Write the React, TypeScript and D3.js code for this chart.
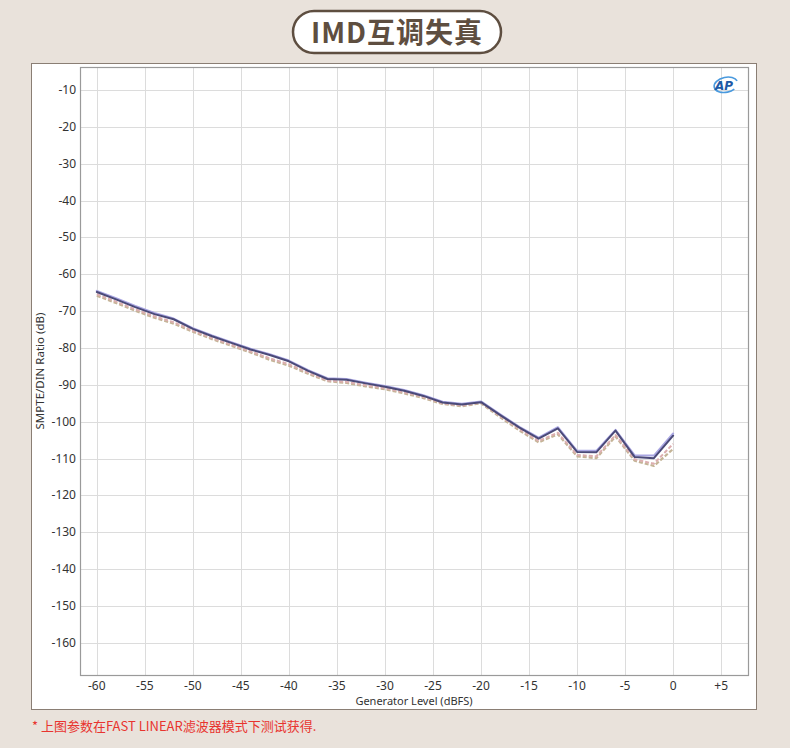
import React from 'react';
import * as d3 from 'd3';

// generator level (dBFS)
const levels = [-60, -58, -56, -54, -52, -50, -48, -46, -44, -42, -40, -38, -36, -34, -32, -30, -28, -26, -24, -22, -20, -18, -16, -14, -12, -10, -8, -6, -4, -2, 0];

// SMPTE/DIN ratio (dB) per channel
const navy = [-64.8, -66.8, -68.9, -70.8, -72.2, -74.8, -76.8, -78.6, -80.4, -81.9, -83.6, -86.2, -88.4, -88.6, -89.6, -90.5, -91.6, -93.0, -94.8, -95.3, -94.7, -98.2, -101.6, -104.6, -101.8, -108.2, -108.3, -102.4, -109.6, -109.9, -103.8];
const lavender = [-64.5, -66.5, -68.6, -70.5, -72.0, -74.6, -76.6, -78.4, -80.2, -81.7, -83.4, -86.0, -88.2, -88.4, -89.4, -90.3, -91.4, -92.8, -94.6, -95.1, -94.5, -98.0, -101.4, -104.3, -101.5, -107.9, -107.9, -102.2, -109.1, -109.2, -103.2];
const tan = [-65.8, -67.8, -69.9, -71.8, -73.4, -75.6, -77.6, -79.4, -81.2, -83.2, -84.8, -87.0, -89.0, -89.5, -90.4, -91.2, -92.3, -93.6, -95.2, -95.8, -95.0, -98.8, -102.4, -105.6, -103.4, -109.4, -109.9, -104.0, -110.6, -112.0, -107.4];
const pink = [-65.4, -67.4, -69.5, -71.4, -73.0, -75.3, -77.3, -79.1, -80.9, -82.8, -84.4, -86.7, -88.8, -89.2, -90.1, -90.9, -92.0, -93.3, -95.0, -95.6, -94.8, -98.5, -102.0, -105.2, -103.0, -109.0, -109.4, -103.6, -110.2, -111.4, -106.0];

const xTicks = [-60, -55, -50, -45, -40, -35, -30, -25, -20, -15, -10, -5, 0, 5];
const yTicks = [-10, -20, -30, -40, -50, -60, -70, -80, -90, -100, -110, -120, -130, -140, -150, -160];

const W = 790;
const H = 748;
const plot = { left: 80, right: 749, top: 67, bottom: 676 };

export default function App() {
  const x = d3.scaleLinear().domain([-61.75, 7.9]).range([plot.left, plot.right]);
  const y = d3.scaleLinear().domain([-3.75, -169]).range([plot.top, plot.bottom]);

  const line = d3.line<number>()
    .x((_, i) => x(levels[i]))
    .y(d => y(d));

  const series = [
    { data: tan, color: '#c4b496', width: 2.2, dash: '4,2' },
    { data: pink, color: '#dcaeb0', width: 2, dash: '4,2' },
    { data: lavender, color: '#a9a6e2', width: 2, dash: undefined },
    { data: navy, color: '#4b4a78', width: 2, dash: undefined },
  ];

  const tickFont = '"Noto Sans", "Open Sans", sans-serif';

  return (
    <div>
      <style>{'body{margin:0}'}</style>
      <svg width={W} height={H} style={{ display: 'block' }}>
        <rect x={0} y={0} width={W} height={H} fill="#e9e2db" />

        {/* title pill */}
        <rect x={293} y={11} width={208} height={42} rx={21} fill="#ffffff" stroke="#5e4e40" strokeWidth={2.5} />
        <text x={397} y={43} textAnchor="middle" fontFamily='"Noto Sans CJK SC", sans-serif' fontWeight={700} fontSize={28} letterSpacing={1} fill="#5e4e40">
          IMD互调失真
        </text>

        {/* chart panel */}
        <rect x={31.5} y={63.5} width={725} height={646} fill="#ffffff" stroke="#8a7e74" strokeWidth={1} />

        {/* grid */}
        <g stroke="#dcdcdc" strokeWidth={1}>
          {xTicks.map(t => (
            <line key={'gx' + t} x1={Math.round(x(t)) + 0.5} x2={Math.round(x(t)) + 0.5} y1={plot.top} y2={plot.bottom} />
          ))}
          {yTicks.map(t => (
            <line key={'gy' + t} x1={plot.left} x2={plot.right} y1={Math.round(y(t)) + 0.5} y2={Math.round(y(t)) + 0.5} />
          ))}
        </g>

        {/* series */}
        <g fill="none" strokeLinejoin="round">
          {series.map((s, i) => (
            <path key={i} d={line(s.data) || ''} stroke={s.color} strokeWidth={s.width} strokeDasharray={s.dash} strokeLinecap={s.dash ? 'butt' : 'round'} />
          ))}
        </g>

        {/* plot frame */}
        <rect x={plot.left + 0.5} y={plot.top + 0.5} width={plot.right - plot.left - 1} height={plot.bottom - plot.top - 1} fill="none" stroke="#9a9a9a" strokeWidth={1.2} />

        {/* tick labels */}
        <g fontFamily={tickFont} fontSize={12} fill="#333333">
          {yTicks.map(t => (
            <text key={'ty' + t} x={76} y={y(t) + 4} textAnchor="end">{t}</text>
          ))}
          {xTicks.map(t => (
            <text key={'tx' + t} x={x(t)} y={690} textAnchor="middle">{t > 0 ? '+' + t : t}</text>
          ))}
        </g>

        {/* axis titles */}
        <text x={414} y={705} textAnchor="middle" fontFamily={tickFont} fontSize={11} fill="#333333">
          Generator Level (dBFS)
        </text>
        <text transform="translate(44,371) rotate(-90)" textAnchor="middle" fontFamily={tickFont} fontSize={11.5} fill="#333333">
          SMPTE/DIN Ratio (dB)
        </text>

        {/* AP logo */}
        <g transform="translate(725,85)">
          <ellipse cx={1} cy={0} rx={12} ry={7.5} fill="none" stroke="#4a9ade" strokeWidth={1.6} transform="rotate(-12)" strokeDasharray="52,12" strokeDashoffset={-8} />
          <text x={-1} y={4.5} textAnchor="middle" fontFamily="'DejaVu Sans', sans-serif" fontStyle="italic" fontWeight={700} fontSize={12} fill="#1f5aa6">
            AP
          </text>
        </g>

        {/* footnote */}
        <text x={32} y={731} fontFamily='"Noto Sans CJK SC", sans-serif' fontSize={13} fill="#e8342f">
          * 上图参数在FAST LINEAR滤波器模式下测试获得.
        </text>
      </svg>
    </div>
  );
}
